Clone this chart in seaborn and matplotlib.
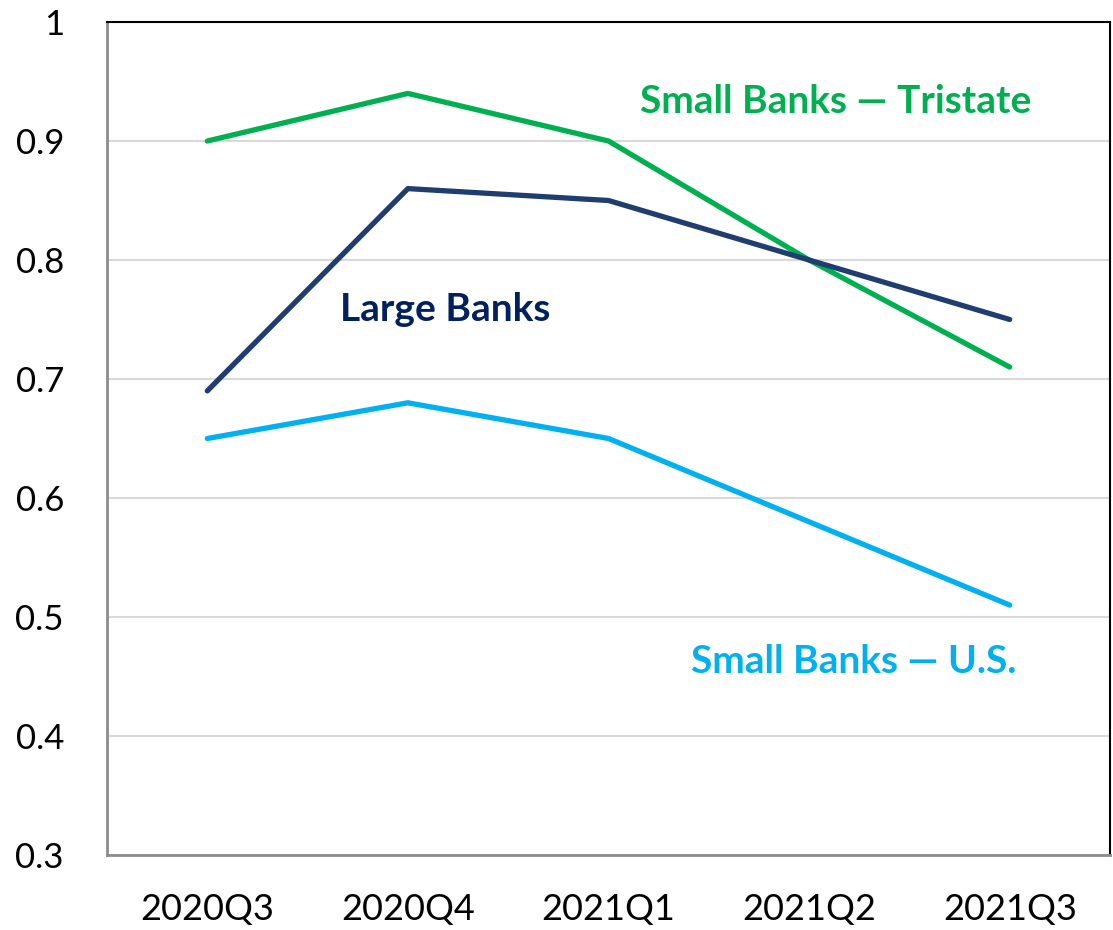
import matplotlib
matplotlib.use("Agg")
import matplotlib.pyplot as plt
import seaborn as sns
import pandas as pd
import numpy as np

quarters = ["2020Q3", "2020Q4", "2021Q1", "2021Q2", "2021Q3"]
small_tristate = [0.90, 0.94, 0.90, 0.80, 0.71]
large_banks = [0.69, 0.86, 0.85, 0.80, 0.75]
small_us = [0.65, 0.68, 0.65, 0.58, 0.51]

series_names = ["Small Banks \u2014 Tristate", "Large Banks", "Small Banks \u2014 U.S."]
line_colors = ["#00B050", "#203D70", "#00B0F0"]
label_colors = ["#00B050", "#002060", "#00B0F0"]

rows = []
for name, vals in zip(series_names, [small_tristate, large_banks, small_us]):
    for i, v in enumerate(vals):
        rows.append({"pos": i, "value": v, "series": name})
df = pd.DataFrame(rows)

sns.set_theme(style="white")
plt.rcParams["font.family"] = ["Lato", "DejaVu Sans"]

fig = plt.figure(figsize=(11.13, 9.3), dpi=100)
ax = fig.add_axes([107 / 1113, 75 / 930, 1003 / 1113, 833 / 930])

sns.lineplot(data=df, x="pos", y="value", hue="series", palette=dict(zip(series_names, line_colors)),
             linewidth=3.8, legend=False, ax=ax, sort=False)

ax.set_xlim(-0.5, 4.5)
ax.set_ylim(0.3, 1.0)
yt = np.round(np.arange(0.3, 1.01, 0.1), 1)
ax.set_yticks(yt)
ax.set_yticklabels(["1" if v == 1.0 else f"{v:.1f}" for v in yt])
ax.set_xticks(list(range(len(quarters))) + [4.5])
ax.set_xticklabels(quarters + [""])

ax.grid(axis="y", color="#D9D9D9", linewidth=1.5)
ax.set_axisbelow(True)
ax.set_xlabel("")
ax.set_ylabel("")

for side in ["left", "bottom"]:
    ax.spines[side].set_color("#8C8C8C")
    ax.spines[side].set_linewidth(2)
for side in ["top", "right"]:
    ax.spines[side].set_color("#000000")
    ax.spines[side].set_linewidth(1.5)
    ax.spines[side].set_visible(True)

ax.tick_params(axis="both", which="major", direction="inout", length=14, width=2,
               color="#8C8C8C", labelcolor="#000000")
ax.tick_params(axis="y", pad=24, labelsize=25)
ax.tick_params(axis="x", pad=20, labelsize=26)

label_pos = [(3.135, 0.9336), (1.186, 0.7588), (3.22, 0.4622)]
for name, (x, y), c in zip(series_names, label_pos, label_colors):
    ax.text(x, y, name, color=c, fontsize=28, fontweight="bold", ha="center", va="center")

fig.savefig("out.png", dpi=100)
